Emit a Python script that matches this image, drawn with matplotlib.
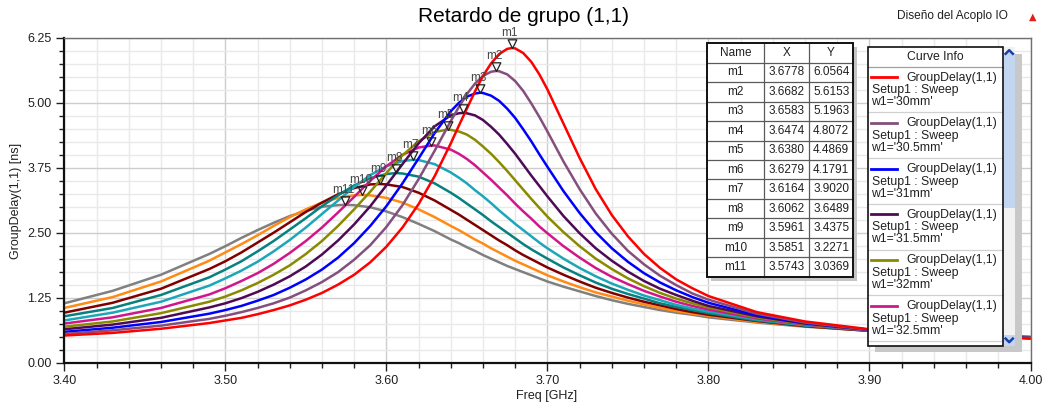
import numpy as np
import matplotlib
matplotlib.use("Agg")
import matplotlib.pyplot as plt
from matplotlib.patches import Rectangle
from matplotlib.lines import Line2D
from matplotlib.path import Path
from matplotlib.ticker import MultipleLocator, FormatStrFormatter

plt.rcParams['font.family'] = ['Liberation Sans', 'DejaVu Sans']

# ---- data -------------------------------------------------------------
freq = [3.40, 3.43, 3.46, 3.49,
        3.50, 3.51, 3.52, 3.53, 3.54, 3.55, 3.56, 3.57, 3.58, 3.59,
        3.60, 3.61, 3.62, 3.63, 3.64, 3.645, 3.65, 3.655, 3.66, 3.665,
        3.67, 3.675, 3.68, 3.685, 3.69, 3.695,
        3.70, 3.71, 3.72, 3.73, 3.74, 3.75, 3.76, 3.77, 3.78, 3.79, 3.80,
        3.83, 3.86, 3.90, 3.95, 4.00]

gd_w30 = [.52, .57, .65, .76,
          .81, .86, .93, 1.01, 1.10, 1.21, 1.34, 1.50, 1.69, 1.93,
          2.23, 2.60, 3.05, 3.59, 4.22, 4.56, 4.89, 5.22, 5.52, 5.76,
          5.94, 6.04, 6.05, 5.96, 5.79, 5.55,
          5.26, 4.60, 3.94, 3.34, 2.84, 2.43, 2.09, 1.82, 1.60, 1.43, 1.28,
          .97, .79, .64, .53, .46]
gd_w30_5 = [.55, .62, .71, .84,
            .90, .97, 1.05, 1.14, 1.25, 1.39, 1.55, 1.74, 1.98, 2.26,
            2.61, 3.03, 3.53, 4.08, 4.65, 4.92, 5.17, 5.37, 5.52, 5.60,
            5.61, 5.55, 5.42, 5.23, 4.99, 4.73,
            4.45, 3.87, 3.34, 2.87, 2.48, 2.15, 1.89, 1.67, 1.49, 1.33, 1.21,
            .94, .77, .63, .53, .47]
gd_w31 = [.59, .67, .78, .94,
          1.01, 1.09, 1.19, 1.30, 1.44, 1.60, 1.79, 2.02, 2.30, 2.63,
          3.01, 3.45, 3.93, 4.42, 4.84, 5.00, 5.12, 5.18, 5.19, 5.14,
          5.04, 4.89, 4.71, 4.49, 4.26, 4.01,
          3.77, 3.30, 2.88, 2.51, 2.20, 1.94, 1.72, 1.54, 1.39, 1.26, 1.15,
          .91, .76, .63, .53, .47]
gd_w31_5 = [.64, .73, .86, 1.06,
            1.14, 1.24, 1.36, 1.50, 1.66, 1.85, 2.08, 2.35, 2.66, 3.01,
            3.41, 3.82, 4.22, 4.55, 4.76, 4.80, 4.80, 4.76, 4.67, 4.54,
            4.39, 4.21, 4.02, 3.81, 3.60, 3.40,
            3.20, 2.82, 2.49, 2.20, 1.96, 1.75, 1.57, 1.42, 1.30, 1.19, 1.09,
            .89, .75, .63, .53, .47]
gd_w32 = [.69, .79, .95, 1.17,
          1.27, 1.39, 1.53, 1.69, 1.87, 2.09, 2.34, 2.63, 2.95, 3.29,
          3.65, 3.99, 4.26, 4.44, 4.48, 4.45, 4.39, 4.29, 4.16, 4.02,
          3.86, 3.69, 3.51, 3.33, 3.15, 2.98,
          2.81, 2.51, 2.24, 2.00, 1.80, 1.62, 1.47, 1.34, 1.23, 1.14, 1.06,
          .87, .74, .63, .53, .48]
gd_w32_5 = [.75, .87, 1.05, 1.31,
            1.43, 1.57, 1.72, 1.90, 2.11, 2.34, 2.60, 2.89, 3.19, 3.50,
            3.78, 4.00, 4.14, 4.18, 4.10, 4.02, 3.92, 3.80, 3.66, 3.52,
            3.37, 3.22, 3.06, 2.91, 2.77, 2.62,
            2.49, 2.24, 2.02, 1.82, 1.65, 1.51, 1.38, 1.27, 1.17, 1.09, 1.02,
            .85, .73, .62, .54, .48]
gd_w33 = [.81, .96, 1.17, 1.48,
          1.62, 1.77, 1.94, 2.14, 2.36, 2.60, 2.86, 3.12, 3.38, 3.61,
          3.78, 3.88, 3.90, 3.82, 3.66, 3.56, 3.45, 3.32, 3.20, 3.07,
          2.93, 2.80, 2.67, 2.55, 2.43, 2.31,
          2.20, 2.00, 1.82, 1.66, 1.52, 1.40, 1.29, 1.20, 1.11, 1.04, .98,
          .83, .72, .62, .54, .48]
gd_w33_5 = [.89, 1.05, 1.30, 1.64,
            1.79, 1.95, 2.14, 2.34, 2.56, 2.78, 3.01, 3.22, 3.41, 3.55,
            3.63, 3.64, 3.58, 3.45, 3.27, 3.17, 3.06, 2.95, 2.84, 2.72,
            2.61, 2.50, 2.39, 2.28, 2.18, 2.09,
            2.00, 1.83, 1.68, 1.54, 1.42, 1.32, 1.23, 1.14, 1.07, 1.01, .95,
            .81, .71, .62, .54, .48]
gd_w34 = [.96, 1.15, 1.42, 1.80,
          1.95, 2.12, 2.31, 2.50, 2.70, 2.90, 3.08, 3.24, 3.36, 3.43,
          3.43, 3.38, 3.27, 3.12, 2.94, 2.85, 2.75, 2.65, 2.55, 2.45,
          2.35, 2.26, 2.16, 2.07, 1.99, 1.91,
          1.83, 1.69, 1.56, 1.44, 1.34, 1.25, 1.17, 1.10, 1.03, .97, .92,
          .80, .70, .61, .54, .49]
gd_w34_5 = [1.05, 1.26, 1.56, 1.96,
            2.12, 2.28, 2.45, 2.63, 2.80, 2.95, 3.08, 3.17, 3.22, 3.22,
            3.17, 3.08, 2.95, 2.80, 2.63, 2.55, 2.46, 2.37, 2.29, 2.20,
            2.12, 2.04, 1.96, 1.89, 1.82, 1.75,
            1.68, 1.56, 1.45, 1.35, 1.27, 1.19, 1.12, 1.05, .99, .94, .90,
            .78, .70, .61, .54, .49]
gd_w35 = [1.14, 1.38, 1.69, 2.09,
          2.24, 2.40, 2.55, 2.69, 2.82, 2.92, 3.00, 3.03, 3.03, 2.99,
          2.91, 2.80, 2.67, 2.53, 2.37, 2.30, 2.22, 2.15, 2.07, 2.00,
          1.93, 1.86, 1.80, 1.74, 1.68, 1.62,
          1.56, 1.46, 1.37, 1.28, 1.20, 1.13, 1.07, 1.01, .96, .92, .87,
          .77, .69, .61, .54, .49]

curve_labels = ["w1='30mm'", "w1='30.5mm'", "w1='31mm'", "w1='31.5mm'", "w1='32mm'",
                "w1='32.5mm'", "w1='33mm'", "w1='33.5mm'", "w1='34mm'",
                "w1='34.5mm'", "w1='35mm'"]
curve_colors = ['#ff0000', '#844f7c', '#0000ff', '#4f0a55', '#8a8a00', '#d1168c',
                '#1ca7b8', '#078080', '#800000', '#ff8a14', '#808080']

marker_names = ['m1', 'm2', 'm3', 'm4', 'm5', 'm6', 'm7', 'm8', 'm9', 'm10', 'm11']
marker_x = [3.6778, 3.6682, 3.6583, 3.6474, 3.6380, 3.6279, 3.6164, 3.6062, 3.5961,
            3.5851, 3.5743]
marker_y = [6.0564, 5.6153, 5.1963, 4.8072, 4.4869, 4.1791, 3.9020, 3.6489, 3.4375,
            3.2271, 3.0369]

series = [gd_w30, gd_w30_5, gd_w31, gd_w31_5, gd_w32, gd_w32_5, gd_w33, gd_w33_5,
          gd_w34, gd_w34_5, gd_w35]

# ---- figure / pixel helpers ----------------------------------------------
W, H = 1045, 408
fig = plt.figure(figsize=(W / 100, H / 100), dpi=100)
fig.patch.set_facecolor('white')


def fx(x):
    return x / W


def fy(y):
    return 1 - y / H


AX_L, AX_R, AX_T, AX_B = 64.3, 1030.5, 38.0, 362.5
ax = fig.add_axes([fx(AX_L), fy(AX_B), (AX_R - AX_L) / W, (AX_B - AX_T) / H])
ax.set_xlim(3.40, 4.00)
ax.set_ylim(0.0, 6.25)
ax.xaxis.set_major_locator(MultipleLocator(0.10))
ax.xaxis.set_minor_locator(MultipleLocator(0.02))
ax.yaxis.set_major_locator(MultipleLocator(1.25))
ax.yaxis.set_minor_locator(MultipleLocator(0.25))
ax.xaxis.set_major_formatter(FormatStrFormatter('%.2f'))
ax.yaxis.set_major_formatter(FormatStrFormatter('%.2f'))
ax.grid(which='major', color='#cdcdcd', lw=1.0)
ax.grid(which='minor', color='#e9e9e9', lw=1.0)
ax.set_axisbelow(True)
ax.tick_params(which='major', direction='out', length=6, width=1.0, color='#202020',
               labelsize=9, labelcolor='#202020', pad=3)
ax.tick_params(which='minor', direction='out', length=3.5, width=1.0, color='#202020')
for side in ('left', 'bottom'):
    ax.spines[side].set_color('#101010')
    ax.spines[side].set_linewidth(1.6)
for side in ('top', 'right'):
    ax.spines[side].set_color('#707070')
    ax.spines[side].set_linewidth(1.0)

# curves (each passes through its own peak marker)
for vals, color, mx, my in reversed(list(zip(series, curve_colors, marker_x, marker_y))):
    xs = np.array(freq + [mx])
    ys = np.array(vals + [my])
    order = np.argsort(xs)
    ax.plot(xs[order], ys[order], color=color, lw=1.8, solid_joinstyle='round',
            solid_capstyle='round')

# peak markers: downward triangle with its tip on the point
tri = Path([(-0.5, 1.0), (0.5, 1.0), (0.0, 0.0), (-0.5, 1.0)],
           [Path.MOVETO, Path.LINETO, Path.LINETO, Path.CLOSEPOLY])
ax.plot(marker_x, marker_y, ls='none', marker=tri, ms=12.5, mfc='none', mec='#202020',
        mew=0.9, clip_on=False, zorder=6)
for name, mx, my in zip(marker_names, marker_x, marker_y):
    ax.annotate(name, (mx, my), xytext=(-1.5, 6.3), textcoords='offset points',
                ha='center', va='bottom', fontsize=8.5, color='#454545', zorder=7)

# axis titles and header texts
fig.text(fx(547), fy(396), 'Freq [GHz]', ha='center', va='center', fontsize=9,
         color='#202020')
fig.text(fx(16), fy(201), 'GroupDelay(1,1) [ns]', ha='center', va='center',
         rotation=90, fontsize=9, color='#202020')
fig.text(fx(524), fy(16), 'Retardo de grupo (1,1)', ha='center', va='center',
         fontsize=15, color='black')
fig.text(fx(1008), fy(16), 'Diseño del Acoplo IO', ha='right', va='center',
         fontsize=8.6, color='#202020')
fig.text(fx(1033), fy(17), '▲', ha='center', va='center', fontsize=7,
         color='#e0201a', family='DejaVu Sans')


def rect(x0, y0, x1, y1, **kw):
    r = Rectangle((fx(x0), fy(y1)), (x1 - x0) / W, (y1 - y0) / H,
                  transform=fig.transFigure, **kw)
    fig.add_artist(r)
    return r


def hline(x0, x1, y, **kw):
    fig.add_artist(Line2D([fx(x0), fx(x1)], [fy(y), fy(y)], transform=fig.transFigure, **kw))


def vline(x, y0, y1, **kw):
    fig.add_artist(Line2D([fx(x), fx(x)], [fy(y0), fy(y1)], transform=fig.transFigure, **kw))


# ---- marker table -------------------------------------------------------
TL, TR, TT = 706.7, 853.3, 43.3
ROW = 19.45
col_edges = [706.7, 764.3, 809.0, 853.3]
n_rows = len(marker_names) + 1
TB = TT + n_rows * ROW
rect(TL + 4, TT + 4, TR + 4, TB + 4, facecolor='#c4c4c4', edgecolor='none', zorder=10)
rect(TL, TT, TR, TB, facecolor='white', edgecolor='none', zorder=11)
for i in range(1, n_rows):
    hline(TL, TR, TT + i * ROW, color='#5a5a5a', lw=0.9, zorder=12)
for cx in col_edges[1:-1]:
    vline(cx, TT, TB, color='#5a5a5a', lw=0.9, zorder=12)
rect(TL, TT, TR, TB, facecolor='none', edgecolor='#101010', lw=1.4, zorder=13)
header = ['Name', 'X', 'Y']
for j, txt in enumerate(header):
    fig.text(fx((col_edges[j] + col_edges[j + 1]) / 2), fy(TT + ROW / 2), txt,
             ha='center', va='center', fontsize=8.5, color='#202020', zorder=14)
for i, (name, mx, my) in enumerate(zip(marker_names, marker_x, marker_y)):
    yc = TT + (i + 1.5) * ROW
    for j, txt in enumerate([name, f'{mx:.4f}', f'{my:.4f}']):
        fig.text(fx((col_edges[j] + col_edges[j + 1]) / 2), fy(yc), txt,
                 ha='center', va='center', fontsize=8.5, color='#202020', zorder=14)

# ---- curve info panel -----------------------------------------------------
LL, LR, LT, LB = 867.7, 1003.3, 46.7, 346.0
SB = 1015.0
rect(LL + 7, LT + 7, SB + 7, LB + 6, facecolor='#c8c8c8', edgecolor='none', zorder=10)
rect(LL, LT, SB, LB, facecolor='white', edgecolor='none', zorder=11)
# scrollbar
rect(LR, LT, SB, LB, facecolor='#f2f2f2', edgecolor='none', zorder=12)
rect(LR + 0.5, 53.0, SB - 0.5, 208.0, facecolor='#c3d6f1', edgecolor='none', zorder=12)
rect(LR + 0.5, 335.0, SB - 0.5, LB - 0.5, facecolor='#c3d6f1', edgecolor='none', zorder=12)
fig.add_artist(Line2D([fx(1005.6), fx(1009.2), fx(1012.8)], [fy(53.8), fy(50.2), fy(53.8)],
                      transform=fig.transFigure, color='#1b3fa6', lw=1.8, zorder=13))
fig.add_artist(Line2D([fx(1005.6), fx(1009.2), fx(1012.8)], [fy(338.6), fy(342.2), fy(338.6)],
                      transform=fig.transFigure, color='#1b3fa6', lw=1.8, zorder=13))
fig.text(fx((LL + LR) / 2), fy(57.3), 'Curve Info', ha='center', va='center',
         fontsize=8.8, color='#202020', zorder=14)
hline(LL, LR, 66.7, color='#a0a0a0', lw=0.9, zorder=12)
ENTRY = 45.7
for k in range(6):
    top = 66.7 + k * ENTRY
    fig.add_artist(Line2D([fx(871.0), fx(897.3)], [fy(top + 10.6), fy(top + 10.6)],
                          transform=fig.transFigure, color=curve_colors[k], lw=2.0,
                          zorder=13))
    fig.text(fx(906.5), fy(top + 10.8), 'GroupDelay(1,1)', ha='left', va='center',
             fontsize=8.8, color='#202020', zorder=14)
    fig.text(fx(871.5), fy(top + 23.4), 'Setup1 : Sweep', ha='left', va='center',
             fontsize=8.8, color='#202020', zorder=14)
    fig.text(fx(871.5), fy(top + 35.4), curve_labels[k], ha='left', va='center',
             fontsize=8.8, color='#202020', zorder=14)
    hline(LL, LR, top + ENTRY, color='#d0d0d0', lw=0.9, zorder=12)
rect(LL, LT, LR, LB, facecolor='none', edgecolor='#101010', lw=1.2, zorder=13)

fig.savefig('out.png', dpi=100, facecolor='white')
